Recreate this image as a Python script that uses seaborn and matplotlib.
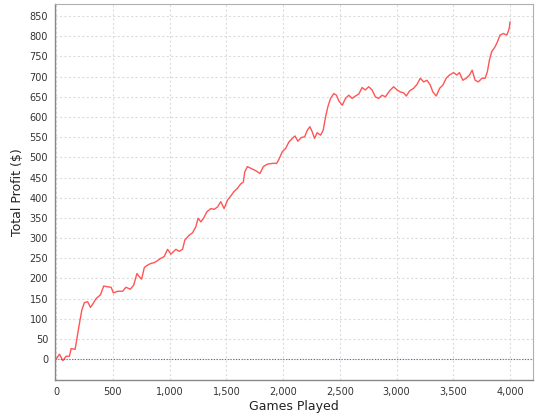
import matplotlib
matplotlib.use("Agg")
import matplotlib.pyplot as plt
import matplotlib.ticker as mticker
import seaborn as sns
import pandas as pd

# values
games = [0, 29, 59, 88, 117, 132, 167, 185, 205, 226, 249, 278, 302, 322, 352,
         390, 419, 454, 484, 504, 542, 586, 615, 653, 683, 712, 733, 753, 777,
         806, 835, 864, 894, 923, 952, 982, 1011, 1055, 1084, 1114, 1134, 1172,
         1202, 1231, 1251, 1275, 1299, 1328, 1363, 1392, 1422, 1451, 1480, 1510,
         1538, 1567, 1597, 1626, 1650, 1662, 1685, 1714, 1758, 1796, 1826, 1861,
         1905, 1943, 1963, 1993, 2022, 2051, 2081, 2104, 2130, 2160, 2190, 2213,
         2236, 2257, 2277, 2300, 2330, 2353, 2374, 2394, 2418, 2447, 2470, 2491,
         2521, 2550, 2579, 2608, 2637, 2667, 2696, 2725, 2754, 2784, 2813, 2842,
         2872, 2901, 2921, 2945, 2974, 3004, 3033, 3062, 3086, 3115, 3150, 3180,
         3209, 3238, 3268, 3297, 3320, 3350, 3379, 3408, 3437, 3466, 3502, 3531,
         3554, 3584, 3613, 3642, 3666, 3692, 3721, 3751, 3780, 3800, 3818, 3838,
         3868, 3888, 3912, 3941, 3971, 3988, 3994, 4000]
profit = [0, 12, -4, 7, 7, 26, 24, 55, 88, 121, 140, 142, 128, 136, 150,
          159, 181, 179, 178, 164, 168, 168, 178, 173, 183, 212, 204, 198, 227,
          233, 237, 239, 244, 250, 254, 272, 260, 272, 267, 272, 295, 307,
          313, 328, 349, 340, 349, 365, 373, 371, 377, 390, 373, 394,
          404, 415, 423, 434, 439, 464, 477, 473, 467, 460, 477, 483,
          485, 485, 495, 514, 522, 538, 547, 553, 540, 549, 551, 567,
          576, 563, 547, 561, 555, 567, 600, 625, 646, 658, 654, 640,
          629, 646, 654, 646, 652, 657, 673, 667, 675, 667, 650, 646,
          654, 650, 658, 667, 675, 667, 662, 660, 652, 665, 671, 681,
          696, 687, 691, 679, 662, 652, 671, 679, 696, 704, 710, 704,
          710, 691, 696, 704, 716, 691, 687, 696, 696, 712, 741, 762,
          774, 786, 803, 807, 803, 815, 822, 836]

df = pd.DataFrame({"Games Played": games, "Total Profit ($)": profit})

sns.set_style("white")
plt.rcParams["font.family"] = ["DejaVu Sans"]

fig = plt.figure(figsize=(5.4, 4.2), dpi=100)
ax = fig.add_axes([0.1019, 0.0952, 0.8851, 0.8952])

sns.lineplot(data=df, x="Games Played", y="Total Profit ($)", color="#ff5555",
             linewidth=1.0, ax=ax)
ax.axhline(0, color="#5a5ad0", linestyle=(0, (1, 1.5)), linewidth=0.8)

ax.set_xlim(-10, 4202)
ax.set_ylim(-52, 880)
ax.set_xticks(range(0, 4001, 500))
ax.set_yticks(range(0, 851, 50))
ax.xaxis.set_major_formatter(mticker.FuncFormatter(lambda v, p: f"{int(v):,}"))
ax.grid(True, color="#dcdcdc", linestyle=(0, (2, 2)), linewidth=0.8)
ax.set_axisbelow(True)

for side in ["top", "right"]:
    ax.spines[side].set_color("#b0b0b0")
    ax.spines[side].set_linewidth(0.8)
for side in ["left", "bottom"]:
    ax.spines[side].set_color("#888888")
    ax.spines[side].set_linewidth(1.0)

ax.tick_params(axis="both", which="major", direction="out", length=3, width=0.8,
               color="#888888", labelsize=7, labelcolor="#333333", pad=2)
ax.set_xlabel("Games Played", fontsize=9, color="#222222", labelpad=2)
ax.set_ylabel("Total Profit ($)", fontsize=9, color="#222222", labelpad=4)

fig.savefig("out.png", dpi=100, facecolor="white")
